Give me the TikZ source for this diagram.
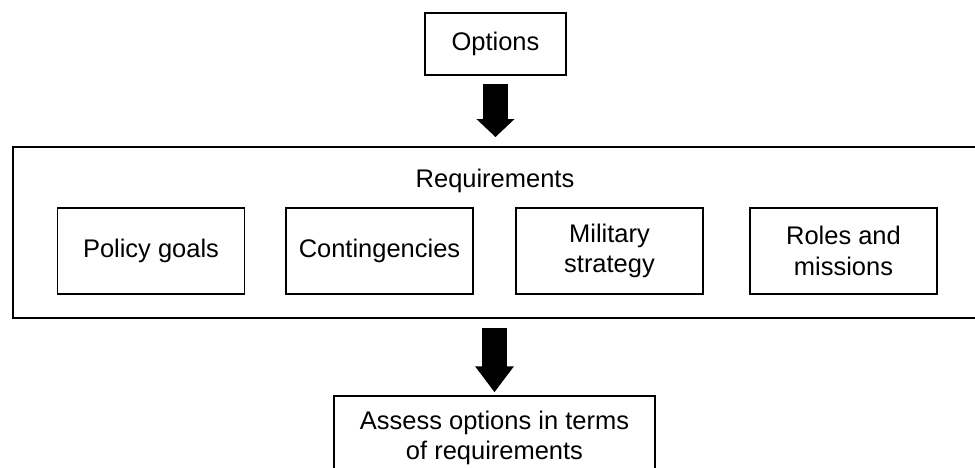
\documentclass[tikz,border=0pt]{standalone}
\usepackage{fontspec}
\setmainfont{Liberation Sans}
\usetikzlibrary{arrows.meta,positioning,calc}

\begin{document}
\begin{tikzpicture}[box/.style={draw, line width=0.8pt, align=center, inner sep=0pt,
    minimum height=1.72cm, minimum width=3.74cm},
  bigarrow/.style={line width=0.49cm, -{Triangle[length=#1, width=0.74cm]}},
  font=\fontsize{14.5}{17.5}\selectfont]
\useasboundingbox (0,0) rectangle (19.5,-9.34);
\node[box, minimum width=2.82cm, minimum height=1.24cm] (opt) at (9.91,-0.88) {Options};
\node[draw, line width=1.1pt, minimum width=19.54cm, minimum height=3.42cm] (req) at (10.03,-4.65) {};
\node (reqlabel) at (9.9,-3.62) {Requirements};
\node[box] (pol) at (3.02,-5.02) {Policy goals};
\node[box] (con) at (7.59,-5.02) {Contingencies};
\node[box] (mil) at (12.19,-5.02) {Military\\strategy};
\node[box] (rol) at (16.87,-5.02) {Roles and\\missions};
\node[box, minimum width=6.42cm, minimum height=1.68cm] (ass) at (9.89,-8.76) {Assess options in terms\\of requirements};
\draw[bigarrow=0.36cm, shorten <=0.16cm, shorten >=0.18cm] (opt.south) -- (opt.south |- req.north);
\draw[bigarrow=0.52cm, shorten <=0.18cm, shorten >=0.06cm] (req.south -| ass.north) -- (ass.north);
\end{tikzpicture}
\end{document}
